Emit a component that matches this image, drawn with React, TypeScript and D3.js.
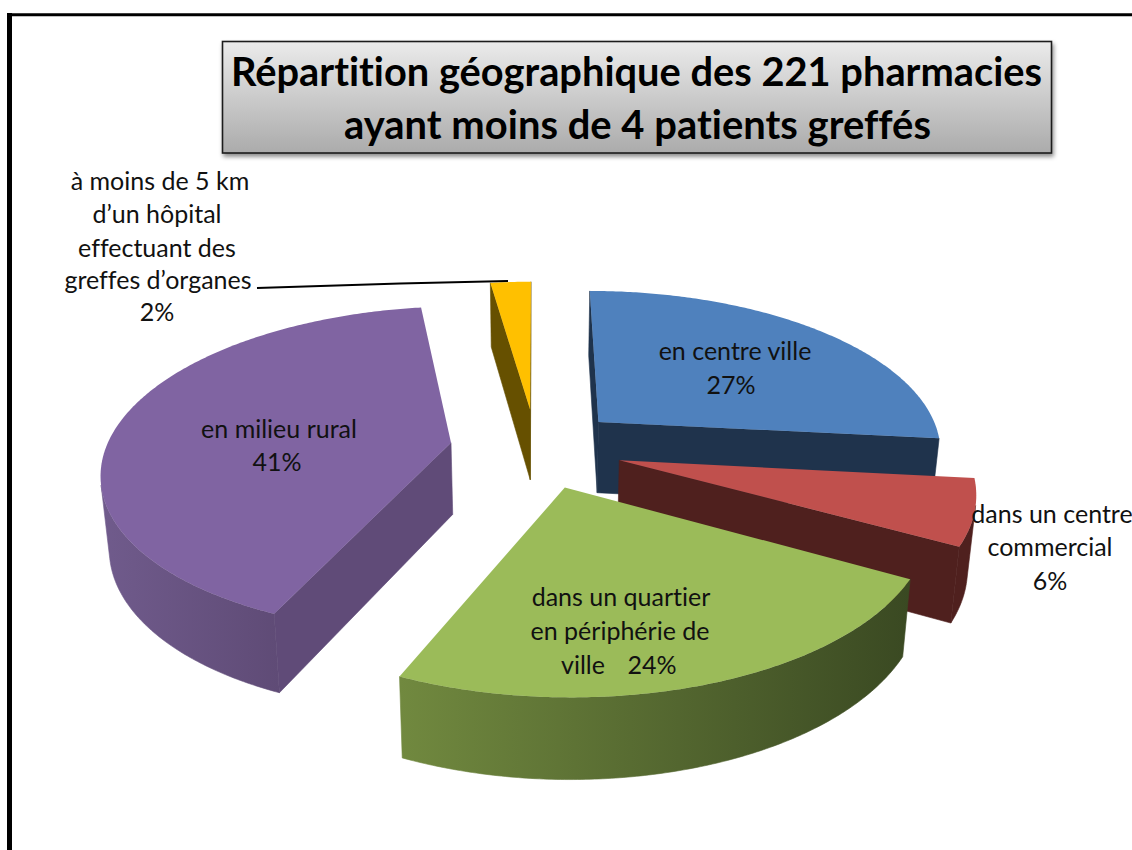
import React from "react";
import * as d3 from "d3";

// Data
const categories = [
  "en centre ville",
  "dans un centre commercial",
  "dans un quartier en périphérie de ville",
  "en milieu rural",
  "à moins de 5 km d’un hôpital effectuant des greffes d’organes",
];
const pharmacyCounts = [59, 14, 52, 91, 5];
const titleLines = [
  "Répartition géographique des 221 pharmacies",
  "ayant moins de 4 patients greffés",
];

const topColors = ["#4F81BD", "#C0504D", "#9BBB59", "#8064A2", "#FFC000"];
const radialWallColors = ["#1F334C", "#4F201E", "#4A5C2B", "#604B78", "#665000"];
const outerWallStart = ["#1F334C", "#4F201E", "#71893F", "#705B8C", "#665000"];
const outerWallEnd = ["#1F334C", "#4F201E", "#3A4922", "#5F4B76", "#665000"];

type Label = { lines: [string, number, number][] };
const labels: Label[] = [
  { lines: [["en centre ville", 735, 360], ["27%", 731, 394]] },
  { lines: [["dans un centre", 1052, 523], ["commercial", 1050, 556], ["6%", 1050, 590]] },
  { lines: [["dans un quartier", 621, 606], ["en périphérie de", 620, 640], ["ville", 583, 674], ["24%", 652, 674]] },
  { lines: [["en milieu rural", 279, 438], ["41%", 277, 471]] },
  {
    lines: [
      ["à moins de 5 km", 160, 190],
      ["d’un hôpital", 157, 223],
      ["effectuant des", 157, 257],
      ["greffes d’organes", 158, 289],
      ["2%", 157, 321],
    ],
  },
];

// Projection of the tilted pie
const cx = 536, cy = 448;
const rx = 345, ry = 160.5, depth = 72;
const persp = 0.165, depthPersp = 0.1, shrink = 0.02;
const explode = 0.25;

function project(x: number, z: number, h: number): [number, number] {
  const w = 1 + persp * z;
  return [
    cx + ((rx * x) / w) * (1 - shrink * h),
    cy - (ry * z) / w + (h * depth) / (1 + depthPersp * z),
  ];
}

const pieGen = d3.pie<number>().sort(null).startAngle(0).endAngle(2 * Math.PI);
const arcs = pieGen(pharmacyCounts);
const line = d3.line();
const shoelace = (p: [number, number][]) =>
  d3.sum(p, (a, i) => {
    const b = p[(i + 1) % p.length];
    return a[0] * b[1] - b[0] * a[1];
  });

function buildSlice(i: number) {
  const a = arcs[i];
  const mid = (a.startAngle + a.endAngle) / 2;
  const ox = explode * Math.sin(mid), oz = explode * Math.cos(mid);
  const pt = (t: number, r: number, h: number) =>
    project(ox + r * Math.sin(t), oz + r * Math.cos(t), h);
  const n = Math.max(2, Math.ceil((a.endAngle - a.startAngle) / 0.01));
  const angles = d3.range(n + 1).map((k) => a.startAngle + ((a.endAngle - a.startAngle) * k) / n);

  const top = [pt(0, 0, 0), ...angles.map((t) => pt(t, 1, 0))];

  const front: [number, number][] = [];
  const frontBottom: [number, number][] = [];
  const outerRuns: string[] = [];
  const flush = () => {
    if (front.length) outerRuns.push(line([...front, ...frontBottom.reverse()]) + "Z");
    front.length = 0;
    frontBottom.length = 0;
  };
  for (let k = 0; k < n; k++) {
    const p0 = pt(angles[k], 1, 0), p1 = pt(angles[k + 1], 1, 0);
    const b0 = pt(angles[k], 1, 1), b1 = pt(angles[k + 1], 1, 1);
    if (shoelace([p0, p1, b1, b0]) < 0) {
      if (!front.length) { front.push(p0); frontBottom.push(b0); }
      front.push(p1);
      frontBottom.push(b1);
    } else flush();
  }
  flush();

  const apexT = pt(0, 0, 0), apexB = pt(0, 0, 1);
  const radial: string[] = [];
  const startQ: [number, number][] = [apexT, pt(a.startAngle, 1, 0), pt(a.startAngle, 1, 1), apexB];
  const endQ: [number, number][] = [pt(a.endAngle, 1, 0), apexT, apexB, pt(a.endAngle, 1, 1)];
  [startQ, endQ].forEach((q) => { if (shoelace(q) < 0) radial.push(line(q) + "Z"); });

  return { i, mid, top: line(top) + "Z", outerRuns, radial };
}

const drawOrder = d3
  .range(arcs.length)
  .map(buildSlice)
  .sort((p, q) => d3.descending(Math.cos(p.mid), Math.cos(q.mid)));

const FONT = "Lato, Carlito, Calibri, sans-serif";
const noLig = { fontVariantLigatures: "none" } as React.CSSProperties;

export default function App() {
  return (
    <svg
      width={1132}
      height={850}
      viewBox="0 0 1132 850"
      style={{ position: "absolute", left: 0, top: 0, display: "block", background: "#fff" }}
    >
      <defs>
        <linearGradient id="titleFill" x1="0" y1="0" x2="0" y2="1">
          <stop offset="0" stopColor="#EBEBEB" />
          <stop offset="1" stopColor="#ABABAB" />
        </linearGradient>
        <filter id="titleShadow" x="-3%" y="-10%" width="106%" height="125%">
          <feDropShadow dx="1.5" dy="3" stdDeviation="2.2" floodColor="#000" floodOpacity="0.45" />
        </filter>
        {categories.map((_, i) => (
          <linearGradient key={i} id={`wall${i}`} x1="0" y1="0" x2="1" y2="0">
            <stop offset="0" stopColor={outerWallStart[i]} />
            <stop offset="1" stopColor={outerWallEnd[i]} />
          </linearGradient>
        ))}
      </defs>

      <line x1={9.5} y1={13} x2={9.5} y2={850} stroke="#000" strokeWidth={5} />
      <line x1={7} y1={14.8} x2={1132} y2={14.8} stroke="#000" strokeWidth={3} />

      <rect
        x={222.5}
        y={41.5}
        width={829}
        height={111.5}
        fill="url(#titleFill)"
        stroke="#1c1c1c"
        strokeWidth={1.6}
        filter="url(#titleShadow)"
      />
      <text x={636.5} y={86} textAnchor="middle" fontFamily={FONT} fontWeight={700} fontSize={40}
        textLength={811} lengthAdjust="spacingAndGlyphs" fill="#000" style={noLig}>{titleLines[0]}</text>
      <text x={637.5} y={139} textAnchor="middle" fontFamily={FONT} fontWeight={700} fontSize={40}
        textLength={587} lengthAdjust="spacingAndGlyphs" fill="#000" style={noLig}>{titleLines[1]}</text>

      {drawOrder.map((s) => (
        <g key={s.i}>
          {s.radial.map((d, k) => (
            <path key={k} d={d} fill={radialWallColors[s.i]} stroke={radialWallColors[s.i]} strokeWidth={0.6} />
          ))}
          {s.outerRuns.map((d, k) => (
            <path key={k} d={d} fill={`url(#wall${s.i})`} stroke={`url(#wall${s.i})`} strokeWidth={0.6} />
          ))}
          <path d={s.top} fill={topColors[s.i]} />
        </g>
      ))}

      <path d="M257,288 L400,283.5 L508,281" fill="none" stroke="#000" strokeWidth={2} />

      {labels.map((l, i) => (
        <g key={i} fontFamily={FONT} fontSize={25} fill="#111" textAnchor="middle" style={noLig}>
          {l.lines.map(([t, x, y], k) => (
            <text key={k} x={x} y={y}>{t}</text>
          ))}
        </g>
      ))}
    </svg>
  );
}
